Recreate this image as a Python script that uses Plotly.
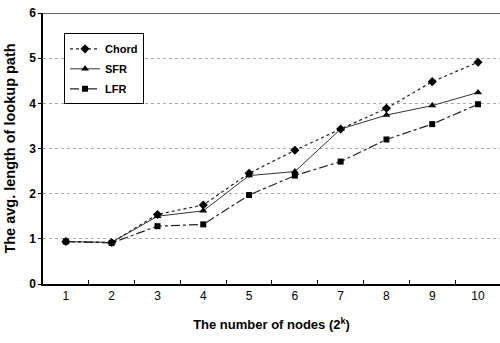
import plotly.graph_objects as go

nodes = ["1", "2", "3", "4", "5", "6", "7", "8", "9", "10"]
chord = [0.94, 0.92, 1.54, 1.75, 2.45, 2.96, 3.43, 3.89, 4.48, 4.91]
sfr = [0.94, 0.92, 1.50, 1.62, 2.40, 2.49, 3.43, 3.74, 3.95, 4.24]
lfr = [0.94, 0.91, 1.28, 1.32, 1.97, 2.40, 2.71, 3.20, 3.54, 3.98]

fig = go.Figure()
fig.add_trace(go.Scatter(x=nodes, y=chord, name="Chord", mode="lines+markers", legendgroup="a",
                         line=dict(color="#222", width=1.2, dash="dot"),
                         marker=dict(symbol="diamond", size=7, color="black")))
fig.add_trace(go.Scatter(x=nodes, y=sfr, name="SFR", mode="lines+markers", legendgroup="b",
                         line=dict(color="#333", width=1),
                         marker=dict(symbol="triangle-up", size=7, color="black")))
fig.add_trace(go.Scatter(x=nodes, y=lfr, name="LFR", mode="lines+markers", legendgroup="c",
                         line=dict(color="#222", width=1.2, dash="dashdot"),
                         marker=dict(symbol="square", size=6, color="black")))

fig.update_layout(
    width=500, height=343,
    margin=dict(l=43, r=0, t=13, b=59),
    paper_bgcolor="white", plot_bgcolor="white",
    font=dict(family="Liberation Sans, Arial", size=12, color="black"),
    showlegend=True,
    legend=dict(x=0.046, y=0.925, xanchor="left", yanchor="top",
                bordercolor="black", borderwidth=1, bgcolor="white",
                font=dict(family="Liberation Sans, Arial", size=11, color="black", weight="bold"),
                itemwidth=30, tracegroupgap=1),
)
fig.update_xaxes(
    type="category", range=[-0.5, 9.48], automargin=False,
    showline=True, linecolor="black", linewidth=1.5,
    ticks="inside", tickson="boundaries", ticklen=4, tickcolor="black",
    showgrid=False,
    tickfont=dict(family="Liberation Sans, Arial", size=12, color="black"),
    title=dict(text="<b>The number of nodes (2<sup>k</sup>)</b>", standoff=18,
               font=dict(family="Liberation Sans, Arial", size=13, color="black")),
)
fig.update_yaxes(
    range=[0, 6], dtick=1, automargin=False,
    showline=True, linecolor="black", linewidth=1.5,
    ticks="outside", ticklen=3, tickcolor="black",
    showgrid=True, gridcolor="#aaa", griddash="dot", gridwidth=1,
    zeroline=False,
    tickfont=dict(family="Liberation Sans, Arial", size=12, color="black", weight="bold"),
    title=dict(text="<b>The avg. length of lookup path</b>", standoff=10,
               font=dict(family="Liberation Sans, Arial", size=14.5, color="black")),
)
fig.add_shape(type="line", xref="paper", yref="y", x0=0, x1=1, y0=6, y1=6,
              line=dict(color="#333", width=1.5))

fig.write_html("out.html", config={"displayModeBar": False},
               post_script="document.body.style.margin='0';document.body.style.overflow='hidden';")
